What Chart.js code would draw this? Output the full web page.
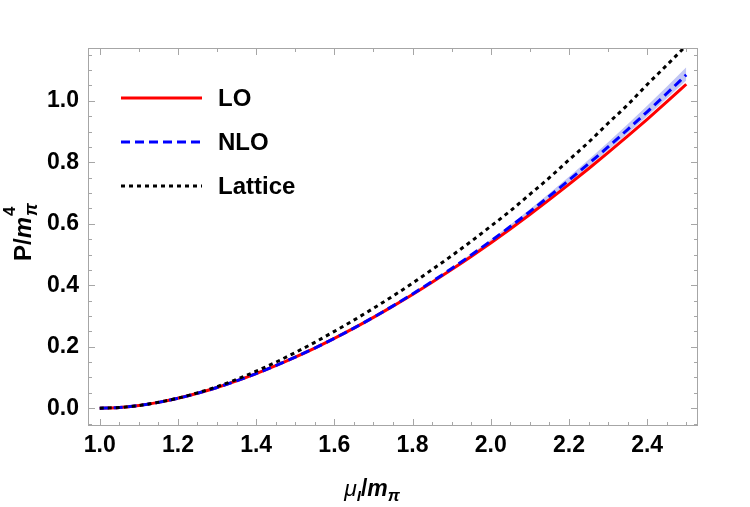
<!DOCTYPE html>
<html>
<head>
<meta charset="utf-8">
<script src="https://cdn.jsdelivr.net/npm/chart.js@4"></script>
<style>
  html, body { margin: 0; padding: 0; background: #ffffff; }
  #wrap { width: 750px; height: 507px; }
</style>
</head>
<body>
<div id="wrap"><canvas id="pressureChart" width="750" height="507"></canvas></div>
<script>
// mu_I / m_pi sample points
let muValues = [1.0, 1.05, 1.1, 1.15, 1.2, 1.25, 1.3, 1.35, 1.4, 1.45, 1.5, 1.55, 1.6, 1.65, 1.7, 1.75,
    1.8, 1.85, 1.9, 1.95, 2.0, 2.05, 2.1, 2.15, 2.2, 2.25, 2.3, 2.35, 2.4, 2.45, 2.5];

let loValues = [0, 0.0023, 0.0087, 0.0188, 0.0321, 0.0484, 0.0673, 0.0887, 0.1124, 0.1382, 0.166, 0.1957,
    0.2272, 0.2605, 0.2954, 0.332, 0.3701, 0.4098, 0.451, 0.4937, 0.5378, 0.5833, 0.6302, 0.6785, 0.7282,
    0.7792, 0.8315, 0.8852, 0.9401, 0.9964, 1.054];

let nloValues = [0, 0.0023, 0.0087, 0.0188, 0.0321, 0.0484, 0.0673, 0.0887, 0.1124, 0.1382, 0.166, 0.1957,
    0.2272, 0.2606, 0.2958, 0.3329, 0.3716, 0.4122, 0.4544, 0.4984, 0.5439, 0.591, 0.6397, 0.690, 0.7419,
    0.7953, 0.8501, 0.9066, 0.9644, 1.0239, 1.0848];

let latticeValues = [0, 0.0023, 0.0087, 0.019, 0.0327, 0.0499, 0.070, 0.0936, 0.1203, 0.1493, 0.181, 0.2143,
    0.250, 0.2866, 0.325, 0.365, 0.407, 0.451, 0.496, 0.543, 0.592, 0.642, 0.696, 0.750, 0.808,
    0.865, 0.927, 0.987, 1.053, 1.116, 1.180];

// NLO uncertainty band
let bandMu = [1.6, 1.65, 1.7, 1.75, 1.8, 1.85, 1.9, 1.95, 2.0, 2.05, 2.1, 2.15, 2.2, 2.25, 2.3, 2.35, 2.4, 2.45, 2.5];
let bandUpper = [0.2272, 0.2607, 0.2961, 0.3336, 0.3728, 0.4141, 0.4571, 0.5022, 0.5488, 0.5972, 0.6473,
    0.6992, 0.7529, 0.8082, 0.865, 0.9237, 0.9838, 1.0459, 1.1094];
let bandLower = [0.2272, 0.2605, 0.2956, 0.3324, 0.3707, 0.4108, 0.4524, 0.4956, 0.5402, 0.5864, 0.634,
    0.6831, 0.7337, 0.7856, 0.839, 0.8938, 0.9498, 1.0074, 1.0663];

let xTicks = [1.0, 1.2, 1.4, 1.6, 1.8, 2.0, 2.2, 2.4];
let yTicks = [0.0, 0.2, 0.4, 0.6, 0.8, 1.0];

let legendNames = ["LO", "NLO", "Lattice"];

function points(xs, ys) {
    return xs.map((x, i) => ({ x: x, y: ys[i] }));
}

let fontFamily = "'Liberation Sans', Arial, sans-serif";
let frameColor = "#a6a6a6";

// frame with inward ticks like Mathematica
let framePlugin = {
    id: "frame",
    afterDatasetsDraw(chart) {
        let ctx = chart.ctx;
        let area = chart.chartArea;
        let xs = chart.scales.x;
        let ys = chart.scales.y;
        ctx.save();
        ctx.strokeStyle = frameColor;
        ctx.lineWidth = 1;
        ctx.strokeRect(area.left + 0.5, area.top + 0.5, area.right - area.left - 1, area.bottom - area.top - 1);

        ctx.beginPath();
        for (let k = 0; k <= 32; k++) {
            let v = Math.round((0.95 + k * 0.05) * 100) / 100;
            if (v < xs.min || v > xs.max) continue;
            let px = Math.round(xs.getPixelForValue(v)) + 0.5;
            let major = Math.abs(v * 5 - Math.round(v * 5)) < 1e-6;
            let len = major ? 7 : 4;
            ctx.moveTo(px, area.bottom);
            ctx.lineTo(px, area.bottom - len);
            let tenth = Math.abs(v * 10 - Math.round(v * 10)) < 1e-6;
            if (tenth) {
                ctx.moveTo(px, area.top);
                ctx.lineTo(px, area.top + (major ? 7 : 4));
            }
        }
        for (let k = -1; k <= 24; k++) {
            let v = Math.round(k * 0.05 * 100) / 100;
            if (v < ys.min || v > ys.max) continue;
            let py = Math.round(ys.getPixelForValue(v)) + 0.5;
            let major = Math.abs(v * 5 - Math.round(v * 5)) < 1e-6;
            let len = major ? 7 : 4;
            ctx.moveTo(area.left, py);
            ctx.lineTo(area.left + len, py);
            ctx.moveTo(area.right, py);
            ctx.lineTo(area.right - len, py);
        }
        ctx.stroke();
        ctx.restore();
    }
};

function drawParts(ctx, parts, cx, baseY) {
    let width = 0;
    parts.forEach(p => {
        ctx.font = p.font;
        p.w = ctx.measureText(p.t).width + (p.gap || 0);
        if (!p.stack) width += p.w;
    });
    let x = cx - width / 2;
    let lastX = x;
    parts.forEach(p => {
        ctx.font = p.font;
        let px = p.stack ? lastX : x;
        ctx.fillText(p.t, px, baseY + (p.dy || 0));
        if (!p.stack) {
            lastX = x;
            x += p.w;
        }
    });
}

// axis titles and legend
let labelsPlugin = {
    id: "labels",
    afterDraw(chart) {
        let ctx = chart.ctx;
        ctx.save();
        ctx.fillStyle = "#000000";
        ctx.textBaseline = "alphabetic";
        ctx.textAlign = "left";

        drawParts(ctx, [
            { t: "\u03bc", font: "italic 23px " + fontFamily },
            { t: "I", font: "italic bold 15px " + fontFamily, dy: 5 },
            { t: "/", font: "bold 23px " + fontFamily },
            { t: "m", font: "italic bold 23px " + fontFamily },
            { t: "\u03c0", font: "italic bold 17px " + fontFamily, dy: 5 }
        ], 372, 496);

        ctx.save();
        ctx.translate(31, 232);
        ctx.rotate(-Math.PI / 2);
        drawParts(ctx, [
            { t: "P/", font: "bold 24px " + fontFamily },
            { t: "m", font: "italic bold 24px " + fontFamily, gap: 1 },
            { t: "\u03c0", font: "italic bold 18px " + fontFamily, dy: 6 },
            { t: "4", font: "bold 17px " + fontFamily, dy: -16, stack: true }
        ], 0, 0);
        ctx.restore();

        let rows = [98, 142, 186];
        let sets = [chart.data.datasets[2], chart.data.datasets[1], chart.data.datasets[0]];
        rows.forEach((y, i) => {
            let ds = sets[i];
            ctx.beginPath();
            ctx.strokeStyle = ds.borderColor;
            ctx.lineWidth = ds.borderWidth;
            ctx.setLineDash(ds.borderDash || []);
            ctx.moveTo(121, y);
            ctx.lineTo(202, y);
            ctx.stroke();
            ctx.setLineDash([]);
            ctx.font = "bold 24px " + fontFamily;
            ctx.textBaseline = "middle";
            ctx.fillText(legendNames[i], 218, y + 1);
        });
        ctx.restore();
    }
};

let ctx = document.getElementById("pressureChart").getContext("2d");
new Chart(ctx, {
    type: "line",
    data: {
        datasets: [
            {
                label: "Lattice",
                data: points(muValues, latticeValues),
                borderColor: "#000000",
                borderWidth: 3,
                borderDash: [4, 4],
                pointRadius: 0,
                cubicInterpolationMode: "monotone",
                clip: 0
            },
            {
                label: "NLO",
                data: points(muValues, nloValues),
                borderColor: "#0000ff",
                borderWidth: 3,
                borderDash: [9, 5],
                pointRadius: 0,
                cubicInterpolationMode: "monotone",
                clip: 0
            },
            {
                label: "LO",
                data: points(muValues, loValues),
                borderColor: "#ff0000",
                borderWidth: 3,
                pointRadius: 0,
                cubicInterpolationMode: "monotone",
                clip: 0
            },
            {
                label: "band upper",
                data: points(bandMu, bandUpper),
                borderColor: "rgba(0,0,0,0)",
                borderWidth: 0,
                backgroundColor: "#c2c7f3",
                fill: "+1",
                pointRadius: 0,
                cubicInterpolationMode: "monotone",
                clip: 0
            },
            {
                label: "band lower",
                data: points(bandMu, bandLower),
                borderColor: "rgba(0,0,0,0)",
                borderWidth: 0,
                pointRadius: 0,
                fill: false,
                cubicInterpolationMode: "monotone",
                clip: 0
            }
        ]
    },
    options: {
        responsive: false,
        animation: false,
        layout: { padding: { left: 0, top: 48, right: 52, bottom: 0 } },
        plugins: {
            legend: { display: false },
            tooltip: { enabled: false }
        },
        scales: {
            x: {
                type: "linear",
                min: 0.97,
                max: 2.53,
                afterBuildTicks: function (scale) {
                    scale.ticks = xTicks.map(v => ({ value: v }));
                },
                afterFit: function (scale) {
                    scale.height = 81;
                },
                grid: { display: false, drawTicks: false },
                border: { display: false },
                ticks: {
                    padding: 6,
                    color: "#000000",
                    font: { family: fontFamily, size: 23, weight: "bold" },
                    maxRotation: 0,
                    callback: v => v.toFixed(1)
                }
            },
            y: {
                type: "linear",
                min: -0.058,
                max: 1.172,
                afterBuildTicks: function (scale) {
                    scale.ticks = yTicks.map(v => ({ value: v }));
                },
                afterFit: function (scale) {
                    scale.width = 88;
                },
                grid: { display: false, drawTicks: false },
                border: { display: false },
                ticks: {
                    padding: 9,
                    color: "#000000",
                    font: { family: fontFamily, size: 23, weight: "bold" },
                    callback: v => v.toFixed(1)
                }
            }
        }
    },
    plugins: [framePlugin, labelsPlugin]
});
</script>
</body>
</html>
